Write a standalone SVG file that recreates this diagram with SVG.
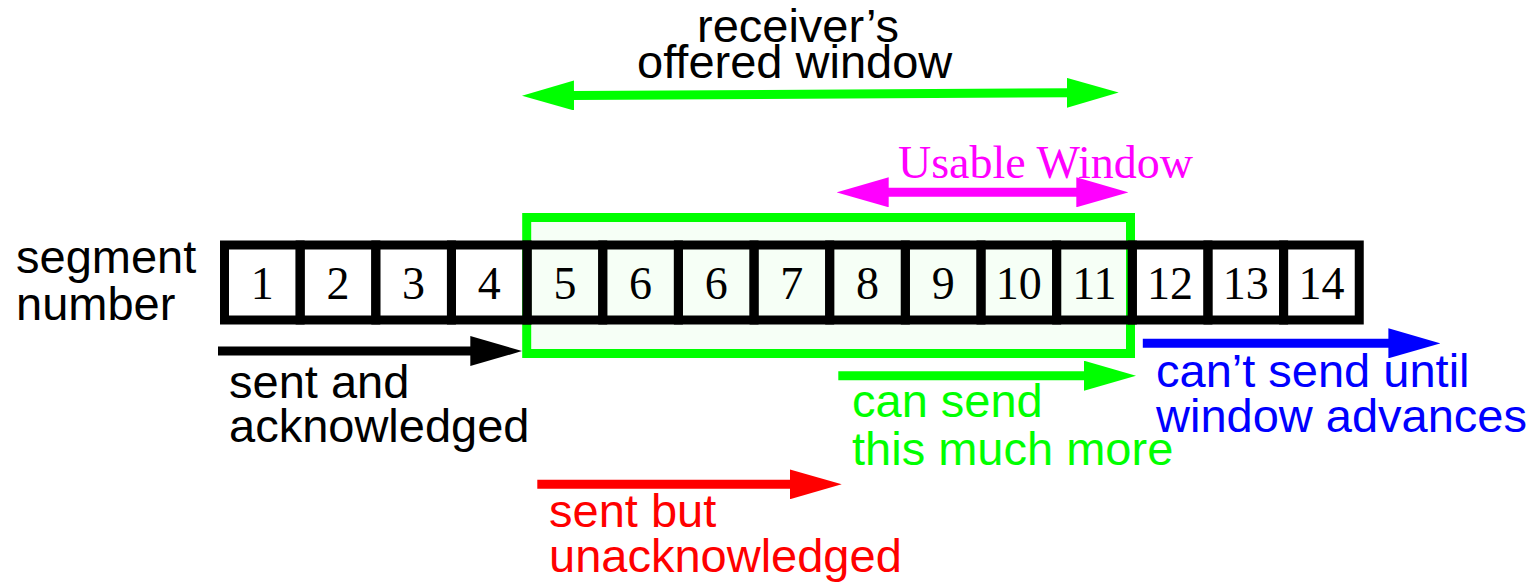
<svg xmlns="http://www.w3.org/2000/svg" width="1538" height="584" viewBox="0 0 1538 584">
<style>
.cell rect{fill:none;stroke:#000;stroke-width:9}
.num{font-family:"Liberation Serif","Times New Roman",serif;font-size:46px;fill:#000;text-anchor:middle}
.lbl{font-family:"Liberation Sans",Arial,sans-serif;font-size:47px}
.ser{font-family:"Liberation Serif","Times New Roman",serif;font-size:46px}
.ln{fill:none;stroke-width:9}
</style>
<defs>
<marker id="hk" viewBox="0 0 52 30" refX="2" refY="15" markerWidth="52" markerHeight="30" markerUnits="userSpaceOnUse" orient="auto-start-reverse"><path d="M0,0 L52,15 L0,30 z" fill="#000"/></marker>
<marker id="hg" viewBox="0 0 52 30" refX="2" refY="15" markerWidth="52" markerHeight="30" markerUnits="userSpaceOnUse" orient="auto-start-reverse"><path d="M0,0 L52,15 L0,30 z" fill="#00ff00"/></marker>
<marker id="hb" viewBox="0 0 52 30" refX="2" refY="15" markerWidth="52" markerHeight="30" markerUnits="userSpaceOnUse" orient="auto-start-reverse"><path d="M0,0 L52,15 L0,30 z" fill="#0000ff"/></marker>
<marker id="hr" viewBox="0 0 52 30" refX="2" refY="15" markerWidth="52" markerHeight="30" markerUnits="userSpaceOnUse" orient="auto-start-reverse"><path d="M0,0 L52,15 L0,30 z" fill="#ff0000"/></marker>
<marker id="hm" viewBox="0 0 52 30" refX="2" refY="15" markerWidth="52" markerHeight="30" markerUnits="userSpaceOnUse" orient="auto-start-reverse"><path d="M0,0 L52,15 L0,30 z" fill="#ff00ff"/></marker>
</defs>
<rect width="1538" height="584" fill="#fff"/>

<g id="window">
<rect x="526.7" y="217.5" width="603.8" height="136" fill="#f6fff6" stroke="#00ff00" stroke-width="9"/>
</g>

<g id="segments">
<g id="seg1" class="cell"><rect x="224.5" y="245" width="75.65" height="75"/><text class="num" x="262.3" y="299">1</text></g>
<g id="seg2" class="cell"><rect x="300.15" y="245" width="75.65" height="75"/><text class="num" x="337.95" y="299">2</text></g>
<g id="seg3" class="cell"><rect x="375.8" y="245" width="75.65" height="75"/><text class="num" x="413.6" y="299">3</text></g>
<g id="seg4" class="cell"><rect x="451.45" y="245" width="75.65" height="75"/><text class="num" x="489.25" y="299">4</text></g>
<g id="seg5" class="cell"><rect x="527.1" y="245" width="75.65" height="75"/><text class="num" x="564.9" y="299">5</text></g>
<g id="seg6" class="cell"><rect x="602.75" y="245" width="75.65" height="75"/><text class="num" x="640.55" y="299">6</text></g>
<g id="seg6b" class="cell"><rect x="678.4" y="245" width="75.65" height="75"/><text class="num" x="716.2" y="299">6</text></g>
<g id="seg7" class="cell"><rect x="754.05" y="245" width="75.65" height="75"/><text class="num" x="791.85" y="299">7</text></g>
<g id="seg8" class="cell"><rect x="829.7" y="245" width="75.65" height="75"/><text class="num" x="867.5" y="299">8</text></g>
<g id="seg9" class="cell"><rect x="905.35" y="245" width="75.65" height="75"/><text class="num" x="943.15" y="299">9</text></g>
<g id="seg10" class="cell"><rect x="981" y="245" width="75.65" height="75"/><text class="num" x="1018.8" y="299">10</text></g>
<g id="seg11" class="cell"><rect x="1056.65" y="245" width="75.65" height="75"/><text class="num" x="1094.45" y="299">11</text></g>
<g id="seg12" class="cell"><rect x="1132.3" y="245" width="75.65" height="75"/><text class="num" x="1170.1" y="299">12</text></g>
<g id="seg13" class="cell"><rect x="1207.95" y="245" width="75.65" height="75"/><text class="num" x="1245.75" y="299">13</text></g>
<g id="seg14" class="cell"><rect x="1283.6" y="245" width="75.65" height="75"/><text class="num" x="1321.4" y="299">14</text></g>
</g>

<g id="connectors">
<line class="ln" x1="572" y1="95.5" x2="1068.7" y2="92.8" stroke="#00ff00" marker-start="url(#hg)" marker-end="url(#hg)"/>
<line class="ln" x1="886.7" y1="192.3" x2="1078.3" y2="192.3" stroke="#ff00ff" marker-start="url(#hm)" marker-end="url(#hm)"/>
<line class="ln" x1="218" y1="351" x2="472.3" y2="351" stroke="#000" marker-end="url(#hk)"/>
<line class="ln" x1="838.3" y1="375.7" x2="1086" y2="375.7" stroke="#00ff00" marker-end="url(#hg)"/>
<line class="ln" x1="1142.8" y1="343.3" x2="1390.4" y2="343.3" stroke="#0000ff" marker-end="url(#hb)"/>
<line class="ln" x1="537.3" y1="484.3" x2="791.7" y2="484.3" stroke="#ff0000" marker-end="url(#hr)"/>
</g>

<g id="label-offered" class="lbl" fill="#000">
<text x="697" y="42">receiver’s</text>
<text x="637" y="78">offered window</text>
</g>
<g id="label-usable">
<text class="ser" x="898" y="178" fill="#ff00ff">Usable Window</text>
</g>
<g id="label-segment" class="lbl" fill="#000">
<text x="16" y="273">segment</text>
<text x="16" y="320">number</text>
</g>
<g id="label-acked" class="lbl" fill="#000">
<text x="229" y="398">sent and</text>
<text x="229" y="442">acknowledged</text>
</g>
<g id="label-cansend" class="lbl" fill="#00ff00">
<text x="852" y="417">can send</text>
<text x="852" y="465">this much more</text>
</g>
<g id="label-cantsend" class="lbl" fill="#0000ff">
<text x="1156" y="387">can’t send until</text>
<text x="1156" y="432">window advances</text>
</g>
<g id="label-unacked" class="lbl" fill="#ff0000">
<text x="549" y="527">sent but</text>
<text x="549" y="572">unacknowledged</text>
</g>
</svg>
